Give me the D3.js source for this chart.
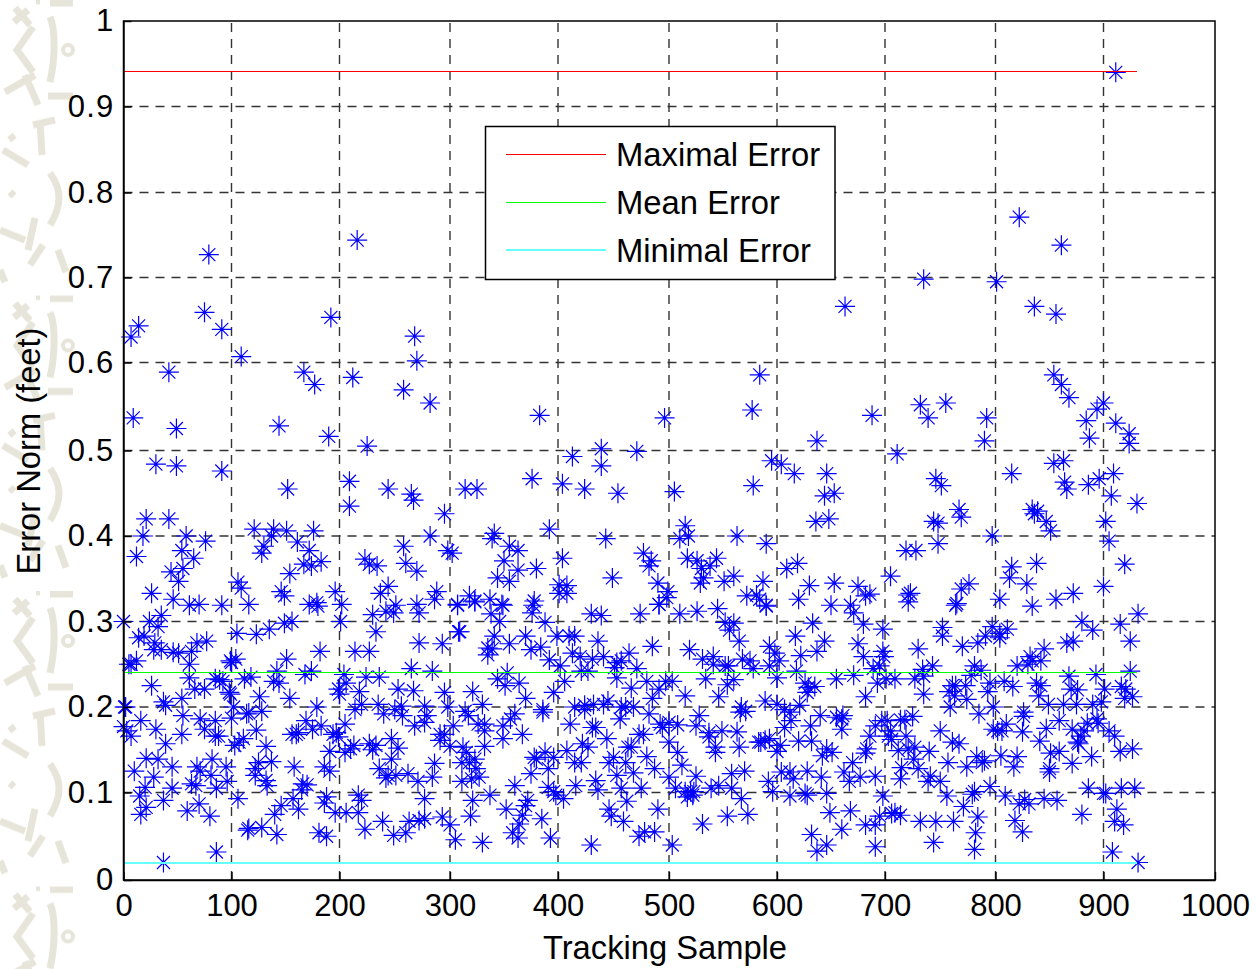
<!DOCTYPE html>
<html>
<head>
<meta charset="utf-8">
<script src="https://d3js.org/d3.v7.min.js"></script>
<style>
html, body { margin: 0; padding: 0; background: #fff; }
text { font-family: "Liberation Sans", Arial, sans-serif; fill: #000; }
</style>
</head>
<body>
<svg id="chart" width="1256" height="969"></svg>
<script>
// tick labels
var xTicks = [0, 100, 200, 300, 400, 500, 600, 700, 800, 900, 1000];
var yTicks = [0, 0.1, 0.2, 0.3, 0.4, 0.5, 0.6, 0.7, 0.8, 0.9, 1];

// reference lines
var legendNames = ["Maximal Error", "Mean Error", "Minimal Error"];
var refValues = [0.941, 0.24, 0.02];
var refColors = ["#ff0000", "#00ff00", "#66ffff"];
var lastSample = 930;

// [sample, error], left part low band
var samplesLeftLow = [[0,.30],[24,.30],[35,.307],[32,.294],[14,.281],[19,.283],[29,.275],[28,.267],[35,.267],[46,.264],[51,.263],[63,.265],[61,.25],[61,.234],[68,.275],[77,.277],[5,.25],[7,.25],[12,.254],[26,.225],[37,.206],[39,.202],[54,.21],[66,.221],[75,.221],[85,.233],[89,.232],[92,.23],[98,.217],[99,.215],[99,.254],[104,.256],[100,.252],[105,.286],[123,.285],[135,.291],[149,.298],[156,.30],[112,.233],[118,.235],[142,.242],[139,.23],[144,.228],[126,.212],[154,.21],[168,.238],[174,.242],[204,.238],[199,.221],[200,.215],[206,.228],[218,.218],[220,.203],[214,.197],[224,.235],[236,.235],[182,.265],[214,.265],[227,.265],[233,.288],[201,.30],[151,.256],[253,.221],[267,.219],[265,.245],[235,.203],[240,.192],[250,.197],[256,.201],[257,.19],
[2,.2],[1,.2],[0,.177],[3,.172],[7,.166],[16,.184],[30,.174],[39,.157],[55,.19],[54,.168],[71,.186],[75,.174],[85,.184],[85,.166],[88,.166],[100,.187],[102,.2],[114,.192],[116,.193],[123,.173],[128,.195],[103,.155],[107,.159],[111,.163],[132,.154],[179,.2],[169,.184],[175,.174],[183,.178],[156,.168],[162,.17],[160,.168],[194,.168],[197,.17],[199,.165],[205,.18],[191,.148],[205,.147],[210,.151],[213,.155],[227,.157],[233,.155],[230,.15],[247,.163],[253,.152],[247,.139],[268,.178],[236,.128],[244,.12],[251,.12],[242,.117],[262,.122],[271,.113],
[10,.125],[21,.14],[32,.139],[28,.118],[20,.106],[45,.13],[68,.13],[71,.125],[81,.12],[82,.139],[95,.13],[96,.113],[63,.11],[67,.108],[86,.105],[45,.105],[15,.096],[37,.091],[21,.083],[16,.075],[59,.079],[70,.087],[80,.073],[106,.093],[116,.059],[115,.057],[128,.06],[142,.052],[140,.075],[146,.085],[157,.093],[162,.081],[165,.103],[166,.11],[170,.109],[122,.128],[125,.135],[122,.12],[137,.136],[132,.114],[133,.108],[158,.13],[186,.13],[191,.125],[188,.095],[186,.088],[196,.077],[206,.077],[217,.077],[217,.097],[220,.091],[181,.054],[188,.05],[223,.058],[239,.067],[249,.051],[260,.054],[263,.067],[86,.032],[37,.02]];

// left part, upper values
var samplesLeftHigh = [[79,.727],[216,.744],[75,.659],[192,.653],[7,.63],[14,.643],[91,.639],[268,.631],[109,.607],[42,.589],[167,.589],[177,.575],[212,.583],[258,.569],[270,.602],[9,.537],[49,.525],[144,.528],[190,.516],[225,.505],[30,.484],[49,.482],[91,.476],[152,.455],[209,.464],[209,.435],[244,.455],[265,.449],[267,.442],[258,.388],[21,.42],[42,.42],[18,.40],[58,.40],[76,.394],[54,.383],[65,.374],[12,.376],[44,.358],[55,.362],[51,.347],[26,.333],[46,.326],[61,.319],[70,.32],[91,.319],[121,.408],[139,.408],[151,.406],[176,.406],[137,.40],[130,.388],[128,.38],[161,.393],[172,.383],[167,.367],[174,.365],[183,.37],[154,.356],[106,.346],[109,.339],[146,.335],[149,.33],[196,.335],[116,.32],[172,.32],[179,.322],[180,.318],[202,.32],[244,.341],[237,.333],[223,.373],[227,.367],[234,.365],[260,.368],[270,.359],[270,.32],[251,.319],[230,.308],[242,.312],[249,.31]];

// middle part, low band
var samplesMidLow = [[272,.31],[272,.275],[293,.274],[308,.288],[309,.288],[307,.319],[323,.323],[349,.319],[346,.3],[338,.309],[376,.31],[377,.319],[388,.299],[341,.283],[335,.269],[339,.268],[335,.261],[355,.274],[370,.283],[375,.267],[384,.27],[392,.255],[399,.283],[410,.283],[415,.283],[402,.248],[413,.263],[420,.259],[431,.256],[441,.259],[436,.277],[430,.309],[439,.307],[474,.309],[491,.32],[510,.309],[526,.312],[545,.315],[552,.299],[560,.298],[556,.29],[565,.277],[590,.318],[617,.283],[633,.298],[644,.277],[637,.265],[622,.26],[593,.271],[598,.263],[602,.254],[593,.248],[578,.245],[575,.254],[568,.256],[555,.248],[552,.248],[541,.259],[541,.25],[531,.256],[519,.267],[485,.271],[464,.263],[457,.254],[453,.252],[451,.246],[471,.245],[453,.234],[427,.242],[421,.242],[284,.242],[353,.24],[344,.233],[351,.225],[364,.228],[406,.23],[396,.217],[370,.21],[295,.217],[321,.218],[330,.203],[298,.2],[314,.195],[317,.19],[386,.197],[386,.194],[360,.192],[356,.186],[349,.178],[332,.18],[326,.18],[277,.201],[279,.19],[277,.182],[303,.178],[291,.168],[291,.161],[295,.168],[367,.168],[349,.163],[332,.172],[332,.154],[300,.154],[312,.153],[315,.147],[311,.135],[318,.135],[323,.139],[324,.128],[327,.118],[320,.116],[311,.113],[286,.134],[284,.118],[388,.147],[378,.141],[380,.139],[396,.141],[375,.122],[391,.128],[360,.108],[391,.106],[396,.101],[398,.097],[405,.093],[416,.108],[337,.097],[321,.091],[277,.093],[411,.18],[415,.2],[424,.202],[432,.203],[441,.203],[445,.207],[424,.197],[457,.2],[461,.2],[468,.2],[456,.186],[482,.192],[515,.213],[466,.222],[480,.23],[491,.221],[485,.21],[497,.23],[503,.23],[534,.233],[554,.226],[560,.232],[546,.212],[528,.19],[525,.178],[567,.2],[566,.194],[571,.195],[589,.207],[600,.234],[618,.242],[626,.228],[629,.223],[635,.224],[628,.217],[655,.233],[621,.202],[607,.197],[612,.194],[613,.184],[607,.176],[600,.203],[631,.178],[640,.19],[655,.188],[492,.18],[500,.182],[508,.179],[494,.176],[431,.176],[434,.176],[477,.168],[473,.168],[444,.163],[537,.17],[549,.172],[563,.171],[537,.165],[543,.153],[543,.147],[565,.153],[583,.159],[585,.159],[589,.161],[593,.163],[603,.155],[600,.148],[620,.16],[632,.16],[646,.151],[651,.147],[642,.143],[500,.159],[508,.147],[463,.153],[466,.153],[480,.142],[427,.153],[422,.157],[408,.149],[450,.141],[446,.135],[461,.135],[421,.135],[415,.135],[487,.128],[512,.132],[525,.119],[500,.118],[468,.123],[453,.12],[558,.122],[570,.125],[592,.113],[604,.124],[612,.124],[615,.116],[628,.125],[641,.118],[434,.114],[436,.103],[457,.105],[475,.105],[506,.105],[546,.108],[539,.105],[558,.105],[515,.101],[520,.101],[523,.101],[517,.095],[522,.097],[567,.093],[596,.101],[612,.096],[626,.099],[628,.097],[646,.099],[462,.09],[352,.081],[372,.091],[370,.085],[367,.074],[385,.07],[364,.064],[358,.054],[363,.048],[393,.048],[446,.081],[448,.073],[459,.067],[490,.081],[293,.072],[300,.063],[319,.073],[277,.07],[272,.068],[305,.046],[330,.043],[430,.04],[473,.05],[478,.055],[487,.055],[503,.04],[531,.064],[554,.073],[573,.075],[632,.052],[637,.033],[646,.04],[649,.077]];

// middle part, upper values
var samplesMidHigh = [[282,.554],[383,.54],[496,.537],[584,.586],[577,.546],[637,.511],[413,.493],[439,.502],[439,.482],[471,.499],[595,.488],[604,.484],[616,.473],[646,.473],[644,.447],[653,.45],[636,.417],[648,.42],[376,.467],[404,.461],[424,.455],[454,.45],[505,.452],[578,.459],[314,.455],[325,.455],[295,.426],[282,.40],[298,.383],[302,.38],[341,.403],[339,.397],[392,.408],[443,.397],[515,.412],[510,.397],[518,.40],[563,.40],[590,.391],[355,.388],[363,.383],[350,.371],[404,.374],[477,.38],[484,.371],[482,.365],[363,.36],[380,.362],[344,.351],[355,.347],[449,.351],[517,.374],[526,.371],[530,.362],[538,.365],[544,.374],[532,.351],[560,.353],[551,.347],[529,.345],[609,.362],[619,.368],[587,.347],[630,.342],[653,.345],[490,.345],[499,.335],[401,.343],[408,.342],[401,.333],[408,.333],[498,.328],[491,.32],[288,.335],[286,.326],[318,.33],[323,.324],[337,.326],[307,.32],[348,.32],[378,.324],[572,.33],[581,.331],[584,.326],[590,.319],[620,.326],[650,.319]];

// right part, upper values
var samplesRightHigh = [[911,.94],[822,.771],[861,.738],[735,.698],[801,.695],[836,.666],[856,.657],[663,.666],[854,.586],[861,.575],[868,.56],[900,.554],[894,.547],[884,.534],[911,.531],[923,.519],[923,.508],[887,.514],[688,.54],[732,.552],[755,.554],[739,.537],[792,.537],[790,.511],[711,.496],[815,.473],[854,.485],[863,.488],[864,.463],[866,.455],[886,.46],[896,.467],[909,.473],[907,.447],[930,.438],[746,.467],[751,.459],[767,.431],[769,.422],[744,.417],[748,.415],[748,.391],[797,.40],[834,.431],[836,.426],[839,.429],[847,.417],[851,.406],[902,.417],[905,.394],[919,.367],[838,.368],[815,.364],[813,.351],[829,.344],[872,.333],[900,.341],[719,.383],[728,.383],[705,.353],[675,.341],[686,.332],[682,.33],[668,.319],[721,.331],[723,.333],[769,.338],[776,.344],[765,.321],[804,.326],[834,.318],[856,.326]];

// right part, low band
var samplesRightLow = [[671,.31],[680,.297],[698,.291],[764,.319],[721,.323],[931,.309],[915,.297],[890,.29],[880,.3],[924,.277],[866,.275],[872,.277],[811,.291],[797,.294],[804,.286],[804,.281],[791,.283],[784,.275],[770,.271],[752,.293],[752,.283],[730,.268],[675,.274],[698,.265],[699,.259],[680,.259],[689,.245],[695,.248],[671,.237],[701,.233],[709,.233],[693,.228],[727,.233],[734,.244],[735,.236],[743,.248],[778,.237],[781,.248],[787,.243],[845,.268],[832,.259],[830,.25],[834,.254],[842,.254],[820,.248],[795,.228],[808,.23],[816,.224],[868,.236],[893,.238],[924,.242],[838,.228],[842,.225],[840,.213],[870,.221],[876,.22],[901,.221],[916,.224],[920,.221],[919,.21],[926,.212],[898,.206],[761,.225],[764,.225],[773,.225],[758,.218],[763,.213],[774,.209],[793,.218],[735,.215],[682,.212],[759,.2],[798,.2],[785,.192],[849,.203],[863,.203],[875,.203],[890,.203],[826,.194],[826,.189],[661,.19],[660,.186],[660,.174],[697,.184],[702,.184],[714,.185],[718,.185],[725,.189],[691,.178],[686,.166],[705,.172],[703,.166],[706,.162],[719,.166],[727,.153],[721,.151],[712,.149],[750,.172],[761,.159],[767,.157],[740,.148],[683,.151],[682,.146],[798,.174],[802,.172],[806,.172],[810,.18],[825,.171],[841,.16],[847,.175],[859,.184],[871,.174],[885,.181],[894,.186],[895,.181],[882,.172],[879,.166],[876,.159],[877,.157],[905,.172],[910,.166],[915,.148],[926,.151],[851,.146],[859,.148],[871,.134],[889,.142],[850,.128],[850,.124],[783,.142],[788,.135],[790,.137],[774,.13],[757,.135],[805,.143],[820,.142],[817,.13],[670,.135],[662,.124],[677,.118],[667,.113],[691,.119],[715,.129],[714,.116],[726,.139],[730,.128],[741,.119],[739,.113],[750,.113],[795,.107],[698,.096],[756,.096],[779,.098],[781,.101],[809,.096],[827,.092],[822,.087],[831,.087],[845,.093],[857,.091],[886,.105],[900,.099],[902,.099],[916,.105],[928,.105],[668,.079],[660,.058],[695,.073],[706,.076],[709,.077],[714,.074],[682,.063],[691,.063],[732,.067],[746,.067],[762,.067],[771,.084],[784,.072],[782,.054],[818,.068],[825,.055],[880,.075],[912,.081],[910,.067],[918,.063],[691,.038],[744,.043],[781,.035],[908,.032],[931,.02]];

var samples = samplesLeftLow.concat(samplesLeftHigh, samplesMidLow, samplesMidHigh, samplesRightHigh, samplesRightLow);

var svg = d3.select("#chart");
var left = 123.5, right = 1215, top_ = 21, bottom = 880;

// the source image was resampled, so its gridlines are not quite even
var xPixels = [left, 231.5, 339.5, 450, 558, 669, 777, 885, 995.5, 1103.5, right];
var yPixels = [bottom, 792.5, 707, 621.5, 536, 450.5, 362.5, 277.5, 192.5, 106.5, top_];
var x = d3.scaleLinear().domain(xTicks).range(xPixels);
var y = d3.scaleLinear().domain(yTicks).range(yPixels);

// ***** BACKGROUND STRIP *****
var wallColor = "#e7e5d9";
var defs = svg.append("defs");
var pat = defs.append("pattern")
    .attr("id", "wallpaper")
    .attr("patternUnits", "userSpaceOnUse")
    .attr("width", 76)
    .attr("height", 295.5);
var glyphs = [
    "M33,27 L17,50 L33,72",
    "M50,17 C56,30 55,60 50,82",
    "M36,1 L40,1 M50,3 L73,3",
    "M15,8 L30,25 M28,10 L14,22",
    "M5,92 L35,75 M25,75 L38,105",
    "M48,96 L73,96",
    "M40,120 L42,155 M33,125 L55,120",
    "M3,150 L28,165",
    "M50,173 C62,190 62,205 50,225",
    "M0,230 L25,240 M35,218 L28,250",
    "M30,265 L43,245 M58,250 L66,272",
    "M0,270 L5,282 M10,135 L14,140 M10,192 L14,196"
];
pat.selectAll("path")
    .data(glyphs)
    .enter()
    .append("path")
    .attr("d", function(d) { return d; })
    .attr("fill", "none")
    .attr("stroke", wallColor)
    .attr("stroke-width", 7);
pat.append("circle")
    .attr("cx", 68).attr("cy", 50).attr("r", 5)
    .attr("fill", "none").attr("stroke", wallColor).attr("stroke-width", 4);

svg.append("rect")
    .attr("x", 0).attr("y", 0)
    .attr("width", 76).attr("height", 969)
    .attr("fill", "url(#wallpaper)");

svg.append("rect")
    .attr("x", left).attr("y", top_)
    .attr("width", right - left).attr("height", bottom - top_)
    .attr("fill", "#fff");

// ***** GRID *****
var gridDash = "9,7";
svg.append("g").selectAll("line")
    .data(xTicks.slice(1, -1))
    .enter()
    .append("line")
    .attr("x1", function(d) { return x(d); })
    .attr("x2", function(d) { return x(d); })
    .attr("y1", bottom).attr("y2", top_)
    .attr("stroke", "#333").attr("stroke-width", 1.4)
    .attr("stroke-dasharray", gridDash);
svg.append("g").selectAll("line")
    .data(yTicks.slice(1, -1))
    .enter()
    .append("line")
    .attr("x1", left).attr("x2", right)
    .attr("y1", function(d) { return y(d); })
    .attr("y2", function(d) { return y(d); })
    .attr("stroke", "#333").attr("stroke-width", 1.4)
    .attr("stroke-dasharray", gridDash);

// ***** MARKERS *****
var armLong = 10, armDiag = 6.5;
var starPath = "M0," + (-armLong) + "V" + armLong +
    "M" + (-armLong) + ",0H" + armLong +
    "M" + (-armDiag) + "," + (-armDiag) + "L" + armDiag + "," + armDiag +
    "M" + (-armDiag) + "," + armDiag + "L" + armDiag + "," + (-armDiag);

svg.append("g").selectAll("path")
    .data(samples)
    .enter()
    .append("path")
    .attr("d", starPath)
    .attr("transform", function(d) { return "translate(" + x(d[0]) + "," + y(d[1]) + ")"; })
    .attr("fill", "none")
    .attr("stroke", "#0000ff")
    .attr("stroke-width", 1.2);

// ***** REFERENCE LINES *****
svg.append("g").selectAll("line")
    .data(refValues)
    .enter()
    .append("line")
    .attr("x1", x(0)).attr("x2", x(lastSample))
    .attr("y1", function(d) { return y(d); })
    .attr("y2", function(d) { return y(d); })
    .attr("stroke", function(d, i) { return refColors[i]; })
    .attr("stroke-width", function(d, i) { return i == 2 ? 2 : 1; })
    .attr("shape-rendering", "crispEdges");

// ***** AXES *****
var xAxis = d3.axisBottom(x)
    .tickValues(xTicks)
    .tickFormat(d3.format("d"))
    .tickSizeInner(-8).tickSizeOuter(0).tickPadding(14);
var yAxis = d3.axisLeft(y)
    .tickValues(yTicks)
    .tickFormat(function(d) { return String(d); })
    .tickSizeInner(-8).tickSizeOuter(0).tickPadding(9);

var gx = svg.append("g").attr("transform", "translate(0," + bottom + ")").call(xAxis);
var gy = svg.append("g").attr("transform", "translate(" + left + ",0)").call(yAxis);
[gx, gy].forEach(function(g) {
    g.selectAll("text").attr("font-size", 31).attr("font-family", null);
    g.attr("font-family", null);
    g.selectAll("path, line").attr("stroke", "#000").attr("stroke-width", 1.4);
});
gy.selectAll("text").attr("letter-spacing", 1.2);

// box
svg.append("rect")
    .attr("x", left).attr("y", top_)
    .attr("width", right - left).attr("height", bottom - top_)
    .attr("fill", "none")
    .attr("stroke", "#000")
    .attr("stroke-width", 1.5);

// axis titles
svg.append("text")
    .attr("x", 665).attr("y", 959)
    .attr("text-anchor", "middle")
    .attr("font-size", 32.7)
    .text("Tracking Sample");
svg.append("text")
    .attr("transform", "translate(40,451) rotate(-90)")
    .attr("text-anchor", "middle")
    .attr("font-size", 32.7)
    .text("Error Norm (feet)");

// ***** LEGEND *****
var legend = svg.append("g");
legend.append("rect")
    .attr("x", 485.5).attr("y", 126.5)
    .attr("width", 349.5).attr("height", 153)
    .attr("fill", "#fff")
    .attr("stroke", "#000")
    .attr("stroke-width", 1.5);
var rowHeight = 48;
var rows = legend.selectAll(".legendRow")
    .data(legendNames)
    .enter()
    .append("g")
    .attr("class", "legendRow")
    .attr("transform", function(d, i) { return "translate(0," + (154 + i * rowHeight) + ")"; });
rows.append("line")
    .attr("x1", 506).attr("x2", 606)
    .attr("stroke", function(d, i) { return refColors[i]; })
    .attr("stroke-width", function(d, i) { return i == 2 ? 2 : 1; })
    .attr("shape-rendering", "crispEdges");
rows.append("text")
    .attr("x", 616).attr("y", 12)
    .attr("font-size", 32.8)
    .text(function(d) { return d; });
</script>
</body>
</html>
